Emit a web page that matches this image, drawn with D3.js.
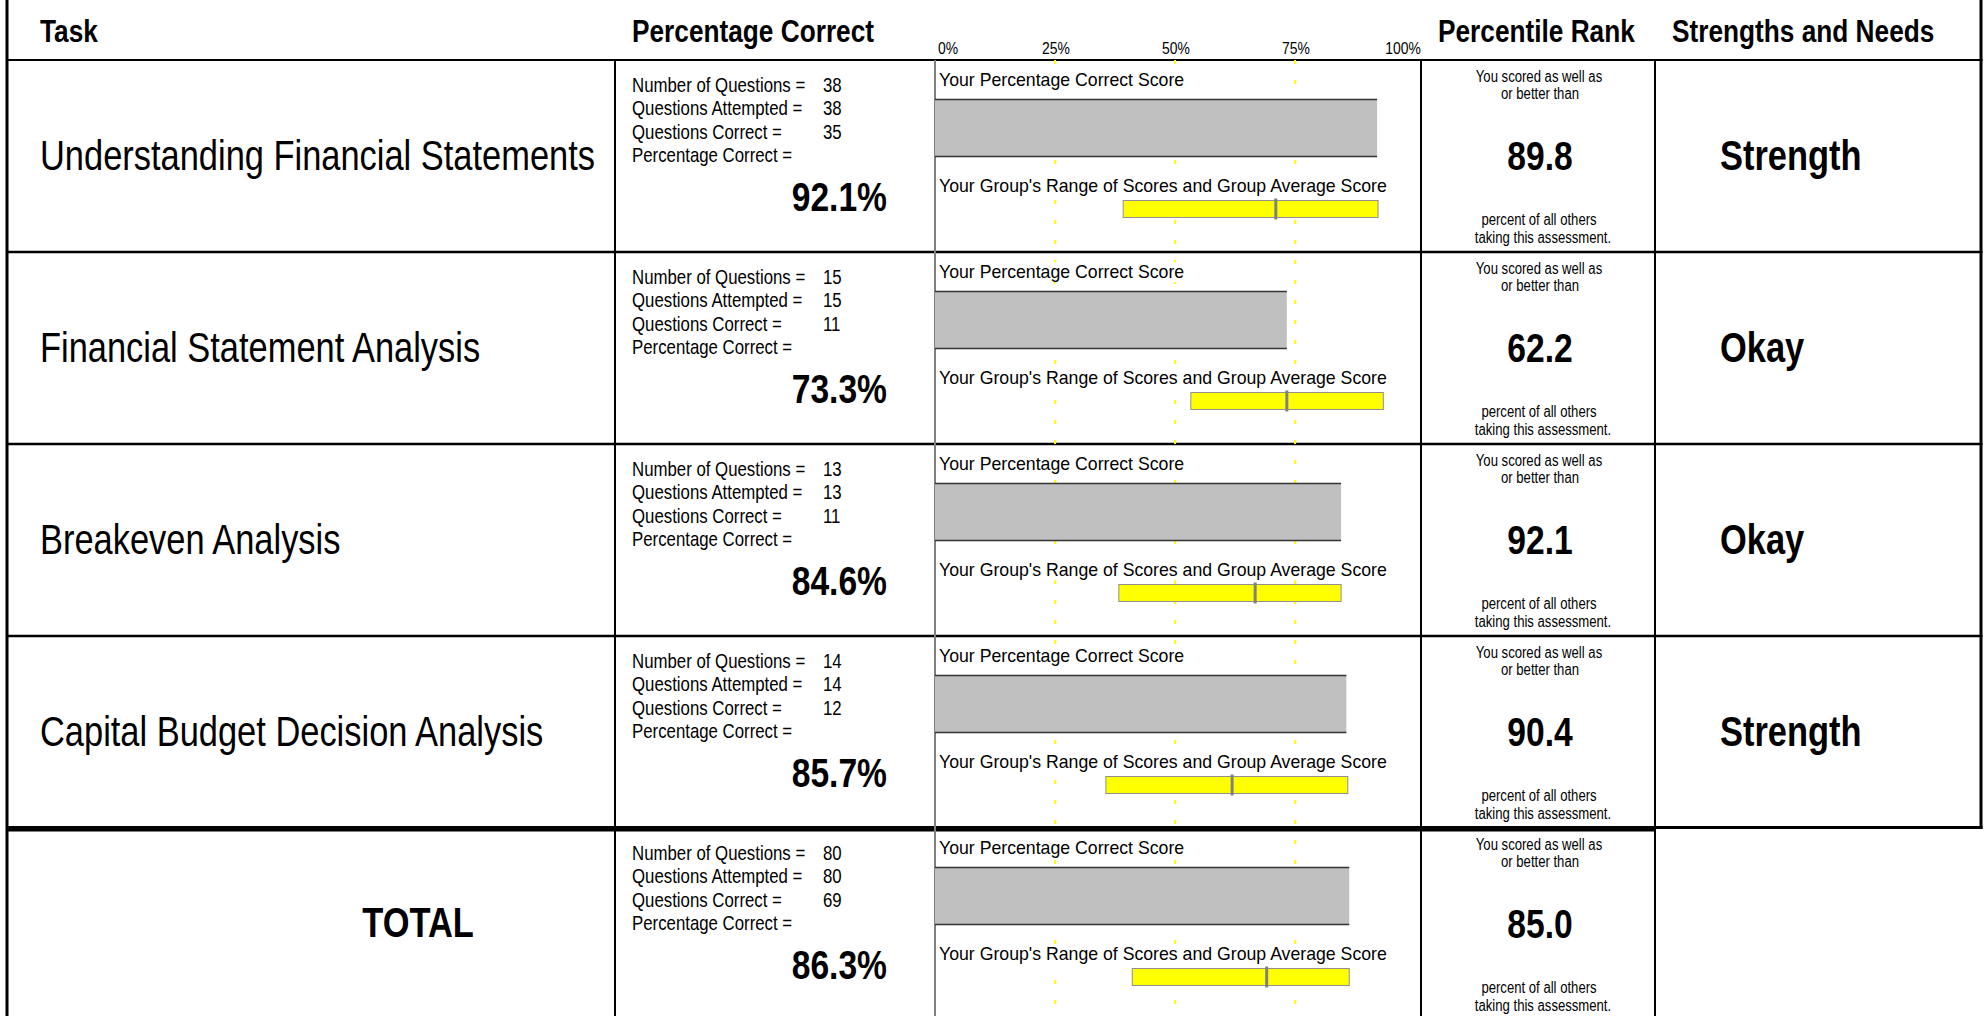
<html>
<head>
<script src="https://d3js.org/d3.v7.min.js"></script>
<style>
  body { margin: 0; background: #fff; }
  svg { display: block; }
</style>
</head>
<body>
<svg id="chart" width="1986" height="1016"></svg>
<script>

// ---- data ----
var tasks = ["Understanding Financial Statements", "Financial Statement Analysis",
             "Breakeven Analysis", "Capital Budget Decision Analysis", "TOTAL"];
var numQuestions = [38, 15, 13, 14, 80];
var attempted    = [38, 15, 13, 14, 80];
var correct      = [35, 11, 11, 12, 69];
var pctCorrect   = [92.1, 73.3, 84.6, 85.7, 86.3];
var groupMin     = [39.2, 53.3, 38.3, 35.6, 41.1];
var groupMax     = [92.3, 93.4, 84.6, 86.0, 86.3];
var groupAvg     = [71.0, 73.3, 66.7, 61.9, 69.1];
var percentile   = ["89.8", "62.2", "92.1", "90.4", "85.0"];
var strengths    = ["Strength", "Okay", "Okay", "Strength", ""];
var ticks        = [0, 25, 50, 75, 100];
var headers      = ["Task", "Percentage Correct", "Percentile Rank", "Strengths and Needs"];

var svg = d3.select("#chart");

// fonts: narrow face if there is one, otherwise squeeze the regular face
var NARROW = "'Liberation Sans Narrow', 'Arial Narrow', sans-serif";
var WIDE = "'Liberation Sans', Arial, sans-serif";
var cv = document.createElement("canvas").getContext("2d");
cv.font = "40px " + NARROW;
var wn = cv.measureText("Understanding Financial").width;
cv.font = "40px " + WIDE;
var ww = cv.measureText("Understanding Financial").width;
var squeeze = (wn / ww > 0.9) ? 0.82 : 1;

function ntext(g, x, y, str, size, weight, anchor) {
  var t = g.append("text")
    .attr("transform", "translate(" + x + "," + y + ") scale(" + squeeze + ",1)")
    .style("font-family", NARROW)
    .style("font-size", size + "px")
    .style("font-weight", weight || "normal")
    .attr("text-anchor", anchor || "start")
    .text(str);
  return t;
}

// layout
var colX = [7, 615, 935, 1421, 1655, 1981];
var headerY = 60;
var rowH = 192;

var x = d3.scaleLinear().domain([0, 100]).range([935, 1415]);
var y = d3.scaleBand().domain(d3.range(tasks.length))
  .range([headerY, headerY + rowH * tasks.length]).padding(0);

// ---- borders ----
var grid = svg.append("g");
function line(x1, y1, x2, y2, w, c) {
  grid.append("line").attr("x1", x1).attr("y1", y1).attr("x2", x2).attr("y2", y2)
    .attr("stroke", c || "#000").attr("stroke-width", w);
}
line(colX[0], 0, colX[0], 1016, 3);
line(colX[5], 0, colX[5], y(4) + 1, 3);
line(colX[0], headerY, colX[5] + 1.5, headerY, 2);
[1, 2, 3].forEach(function (i) { line(colX[0], y(i), colX[5] + 1.5, y(i), 2.5); });
line(colX[0], y(4) - 0.5, colX[5] + 1.5, y(4) - 0.5, 3);
line(colX[0], y(4) + 1, colX[4], y(4) + 1, 5);
line(colX[1], headerY, colX[1], 1016, 2);
line(colX[3], headerY, colX[3], 1016, 2);
line(colX[4], headerY, colX[4], 1016, 2);
line(x(0), headerY, x(0), 1016, 2, "#808080");

// dashed yellow gridlines
svg.append("g").selectAll("line")
  .data(ticks.filter(function (d) { return d > 0 && d < 100; }))
  .enter().append("line")
    .attr("x1", function (d) { return x(d); })
    .attr("x2", function (d) { return x(d); })
    .attr("y1", headerY)
    .attr("y2", 1016)
    .attr("stroke", "#ffff00")
    .attr("stroke-width", 2)
    .attr("stroke-dasharray", "4,16");

// ---- header ----
var head = svg.append("g");
ntext(head, 40, 42, headers[0], 32, "bold");
ntext(head, 632, 42, headers[1], 32, "bold");
ntext(head, 1438, 42, headers[2], 32, "bold");
ntext(head, 1672, 42, headers[3], 32, "bold");

// tick labels
var tl = svg.append("g");
ticks.forEach(function (d, i) {
  var anchor = i == 0 ? "start" : (i == ticks.length - 1 ? "end" : "middle");
  var px = i == 0 ? x(d) + 3 : (i == ticks.length - 1 ? x(d) + 6 : x(d) + 1);
  ntext(tl, px, 54, d + "%", 17, "normal", anchor);
});

// ---- rows ----
var rows = svg.append("g");
tasks.forEach(function (task, i) {
  var top = y(i);
  var g = rows.append("g");

  // task name
  if (task == "TOTAL") ntext(g, 418, top + 109, task, 42, "bold", "middle");
  else ntext(g, 40, top + 110, task, 42, "normal");

  // question counts
  var lab = ["Number of Questions =", "Questions Attempted =", "Questions Correct =", "Percentage Correct ="];
  var val = [numQuestions[i], attempted[i], correct[i], ""];
  lab.forEach(function (l, k) {
    ntext(g, 632, top + 32 + k * 23.3, l, 20.5, "normal");
    if (val[k] !== "") ntext(g, 823, top + 32 + k * 23.3, val[k], 20.5, "normal");
  });
  ntext(g, 887, top + 151, pctCorrect[i].toFixed(1) + "%", 41, "bold", "end");

  // bar labels with white boxes
  [["Your Percentage Correct Score", 26.3], ["Your Group's Range of Scores and Group Average Score", 132.3]]
    .forEach(function (b) {
      var bg = g.append("rect").attr("fill", "#fff");
      var t = g.append("text")
        .attr("x", 939).attr("y", top + b[1])
        .style("font-family", WIDE).style("font-size", "17.7px")
        .text(b[0]);
      var bb = t.node().getBBox();
      bg.attr("x", bb.x - 1).attr("y", bb.y).attr("width", bb.width + 2).attr("height", bb.height);
    });

  // score bar
  g.append("rect")
    .attr("x", x(0)).attr("y", top + 39.5)
    .attr("width", x(pctCorrect[i]) - x(0)).attr("height", 57)
    .attr("fill", "#c0c0c0");
  [39.5, 96.5].forEach(function (yy) {
    g.append("line")
      .attr("x1", x(0)).attr("x2", x(pctCorrect[i]))
      .attr("y1", top + yy).attr("y2", top + yy)
      .attr("stroke", "#333").attr("stroke-width", 1.5);
  });

  // group range bar + average marker
  g.append("rect")
    .attr("x", x(groupMin[i])).attr("y", top + 140.5)
    .attr("width", x(groupMax[i]) - x(groupMin[i])).attr("height", 17)
    .attr("fill", "#ffff00").attr("stroke", "#909090").attr("stroke-width", 1);
  g.append("line")
    .attr("x1", x(groupAvg[i])).attr("x2", x(groupAvg[i]))
    .attr("y1", top + 138.5).attr("y2", top + 159.5)
    .attr("stroke", "#808080").attr("stroke-width", 3);

  // percentile rank
  ntext(g, 1539, top + 21.7, "You scored as well as", 16, "normal", "middle");
  ntext(g, 1540, top + 39.3, "or better than", 16, "normal", "middle");
  ntext(g, 1540, top + 110, percentile[i], 41, "bold", "middle");
  ntext(g, 1539, top + 165, "percent of all others", 16, "normal", "middle");
  ntext(g, 1543, top + 182.7, "taking this assessment.", 16, "normal", "middle");

  // strengths and needs
  if (strengths[i]) ntext(g, 1720, top + 110, strengths[i], 42, "bold");
});

</script>
</body>
</html>
